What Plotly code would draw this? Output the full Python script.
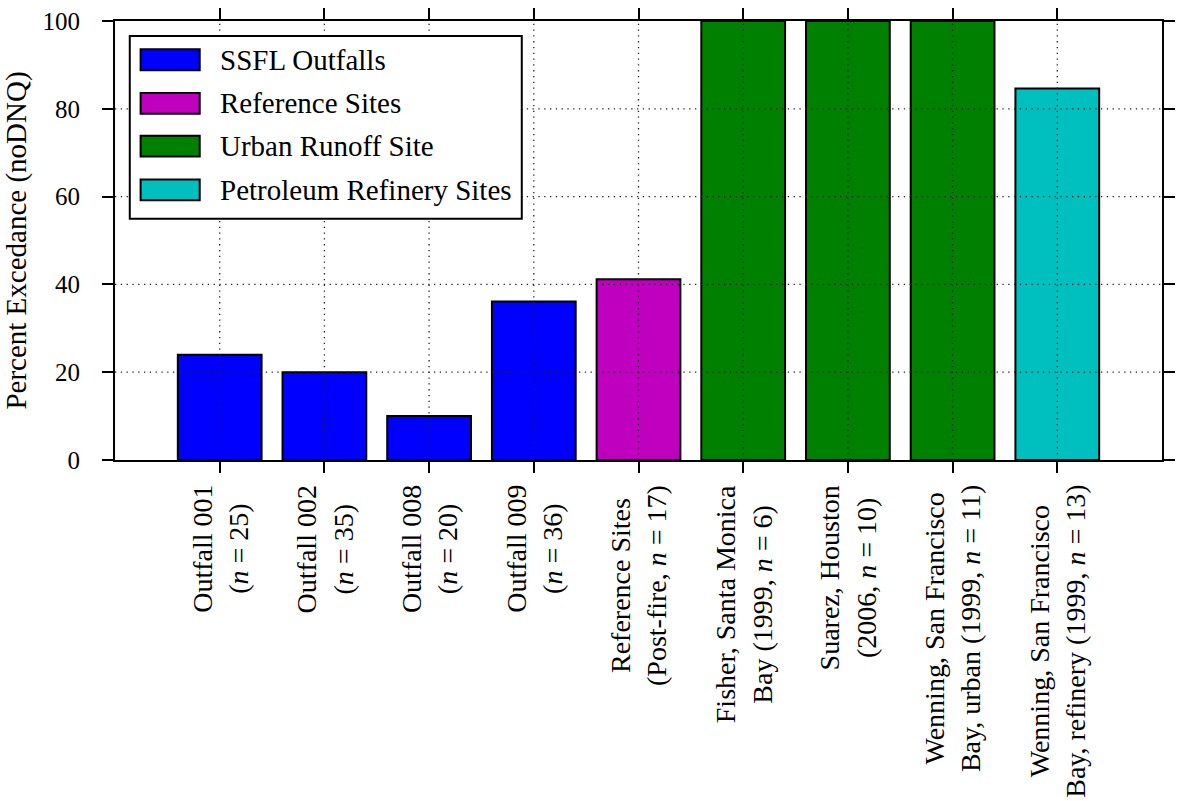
import plotly.graph_objects as go

# ---- data ----
categories = ["Outfall 001", "Outfall 002", "Outfall 008", "Outfall 009",
              "Reference Sites", "Fisher", "Suarez", "Wenning urban", "Wenning refinery"]
tick_labels = [
    "Outfall 001<br>(<i>n</i> = 25)",
    "Outfall 002<br>(<i>n</i> = 35)",
    "Outfall 008<br>(<i>n</i> = 20)",
    "Outfall 009<br>(<i>n</i> = 36)",
    "Reference Sites<br>(Post-fire, <i>n</i> = 17)",
    "Fisher, Santa Monica<br>Bay (1999, <i>n</i> = 6)",
    "Suarez, Houston<br>(2006, <i>n</i> = 10)",
    "Wenning, San Francisco<br>Bay, urban (1999, <i>n</i> = 11)",
    "Wenning, San Francisco<br>Bay, refinery (1999, <i>n</i> = 13)",
]
values = [24.0, 20.0, 10.0, 36.1, 41.2, 100.0, 100.0, 100.0, 84.6]
groups = ["SSFL Outfalls", "SSFL Outfalls", "SSFL Outfalls", "SSFL Outfalls",
          "Reference Sites", "Urban Runoff Site", "Urban Runoff Site", "Urban Runoff Site",
          "Petroleum Refinery Sites"]
group_names = ["SSFL Outfalls", "Reference Sites", "Urban Runoff Site", "Petroleum Refinery Sites"]
group_colors = ["#0000FF", "#BF00BF", "#008000", "#00BFBF"]
y_ticks = [0, 20, 40, 60, 80, 100]

FONT = "Liberation Serif"

# plot area in pixels (for placing the hand-drawn legend)
W, H = 1183, 801
L, R, T, B = 112, 8, 18, 341
pw, ph = W - L - R, H - T - B


def px_x(p):
    return (p - L) / pw


def px_y(p):
    return (H - B - p) / ph


fig = go.Figure()
for g, c in zip(group_names, group_colors):
    xs = [cat for cat, gg in zip(categories, groups) if gg == g]
    ys = [v for v, gg in zip(values, groups) if gg == g]
    fig.add_trace(go.Bar(x=xs, y=ys, name=g, marker=dict(color=c, line=dict(color="black", width=2)),
                         width=0.8, showlegend=False))

shapes = []
# dotted grid drawn above bars
for cat in categories:
    shapes.append(dict(type="line", xref="x", yref="paper", x0=cat, x1=cat, y0=0, y1=1,
                       line=dict(color="#222", width=1.3, dash="1.3px,4.5px"), layer="above"))
for yv in y_ticks[1:-1]:
    shapes.append(dict(type="line", xref="paper", yref="y", x0=0, x1=1, y0=yv, y1=yv,
                       line=dict(color="#222", width=1.3, dash="1.3px,4.5px"), layer="above"))

# legend box
shapes.append(dict(type="rect", xref="paper", yref="paper",
                   x0=px_x(127), x1=px_x(525), y0=px_y(217), y1=px_y(33),
                   fillcolor="white", line=dict(color="black", width=2), layer="above"))
row_centers = [57, 101, 144, 188]
annotations = []
for g, c, yc in zip(group_names, group_colors, row_centers):
    shapes.append(dict(type="rect", xref="paper", yref="paper",
                       x0=px_x(138), x1=px_x(198), y0=px_y(yc + 10.5), y1=px_y(yc - 10.5),
                       fillcolor=c, line=dict(color="black", width=2), layer="above"))
    annotations.append(dict(xref="paper", yref="paper", x=px_x(217), y=px_y(yc),
                            xanchor="left", yanchor="middle", text=g, showarrow=False,
                            font=dict(family=FONT, size=29, color="black")))

# rotated category labels
for cat, lab in zip(categories, tick_labels):
    annotations.append(dict(xref="x", yref="paper", x=cat, y=0, yshift=-23,
                            xanchor="center", yanchor="top", text=lab, textangle=-90,
                            align="center", showarrow=False,
                            font=dict(family=FONT, size=28, color="black")))

fig.update_layout(
    width=W, height=H,
    margin=dict(l=L, r=R, t=T, b=B),
    plot_bgcolor="white", paper_bgcolor="white",
    bargap=0.2,
    shapes=shapes, annotations=annotations,
    font=dict(family=FONT, color="black"),
)
fig.update_xaxes(
    categoryorder="array", categoryarray=categories,
    range=[-1, len(categories)],
    showticklabels=False, showgrid=False,
    ticks="outside", ticklen=11, tickwidth=2, tickcolor="black",
    showline=True, linecolor="black", linewidth=2, mirror="ticks", zeroline=False,
)
fig.update_yaxes(
    range=[0, 100], tickvals=y_ticks, ticktext=[str(v) for v in y_ticks],
    showgrid=False, zeroline=False,
    ticks="outside", ticklen=11, tickwidth=2, tickcolor="black",
    showline=True, linecolor="black", linewidth=2, mirror="ticks",
    tickfont=dict(family=FONT, size=25, color="black"),
    ticklabelstandoff=17,
    title=dict(text="Percent Excedance (noDNQ)", font=dict(family=FONT, size=29, color="black"),
               standoff=14),
)

fig.write_html("out.html")
